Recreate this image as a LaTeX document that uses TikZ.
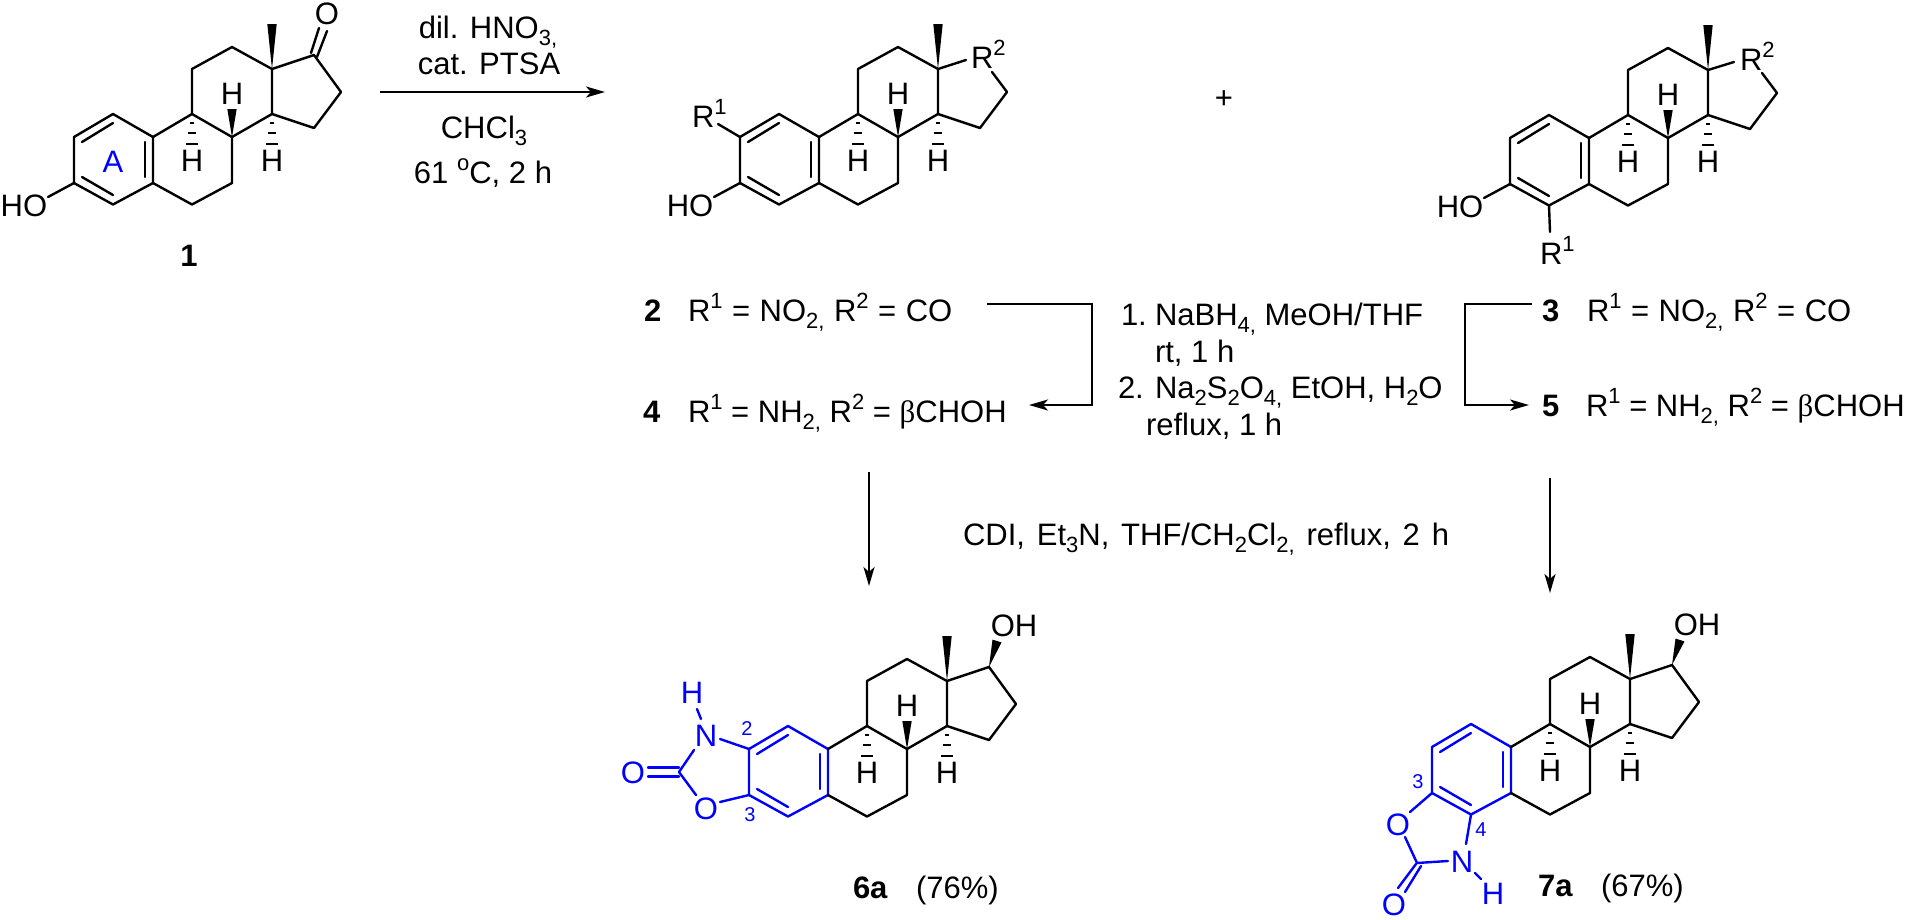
\documentclass[tikz,border=0pt]{standalone}
\usepackage{fontspec}
\setmainfont{Liberation Sans}
\newfontfamily\greekfont{Liberation Serif}
\usetikzlibrary{arrows.meta,calc}
\definecolor{chemblue}{RGB}{0,0,255}
\newcommand{\mainfs}{\fontsize{31}{31}\selectfont}
\newcommand{\smallfs}{\fontsize{20}{20}\selectfont}
\newcommand{\sps}[1]{\raisebox{0.4em}{\fontsize{22}{22}\selectfont #1}}
\newcommand{\sbs}[1]{\raisebox{-0.23em}{\fontsize{22}{22}\selectfont #1}}
\tikzset{
  every node/.style={font=\mainfs,inner sep=0pt,outer sep=0pt},
  bond/.style={line width=2.4pt,line join=round,line cap=round},
  rarrow/.style={line width=2.4pt,-{Stealth[length=19pt,width=11pt,inset=5pt]}},
  lab/.style={anchor=base west},
  numlab/.style={font=\smallfs,text=chemblue},
  hsh/.style={line width=2.2pt}
}
% prefix, dx, dy: named atoms of the steroid skeleton
\newcommand{\atoms}[3]{
  \coordinate (#1c1) at (#2+113,#3+114);
  \coordinate (#1c2) at (#2+74,#3+137);
  \coordinate (#1c3) at (#2+74,#3+183);
  \coordinate (#1c4) at (#2+113,#3+204.5);
  \coordinate (#1c5) at (#2+153,#3+183);
  \coordinate (#1c6) at (#2+192,#3+204.5);
  \coordinate (#1c7) at (#2+232,#3+183);
  \coordinate (#1c8) at (#2+232,#3+137);
  \coordinate (#1c9) at (#2+192,#3+114);
  \coordinate (#1c10) at (#2+153,#3+137);
  \coordinate (#1c11) at (#2+192,#3+69);
  \coordinate (#1c12) at (#2+232,#3+47);
  \coordinate (#1c13) at (#2+272,#3+69);
  \coordinate (#1c14) at (#2+272,#3+114);
  \coordinate (#1c15) at (#2+314,#3+128);
  \coordinate (#1c16) at (#2+341,#3+92);
  \coordinate (#1c17) at (#2+314,#3+55);
  \coordinate (#1me) at (#2+272,#3+24);
  \coordinate (#1wh) at (#2+232,#3+109);
  \coordinate (#1ia) at (#2+82,#3+142);
  \coordinate (#1ib) at (#2+113,#3+123);
  \coordinate (#1ic) at (#2+145,#3+142);
  \coordinate (#1id) at (#2+145,#3+177);
  \coordinate (#1ie) at (#2+82,#3+177);
  \coordinate (#1if) at (#2+113,#3+195);
  \coordinate (#1hoe) at (#2+48,#3+197);
  \node (#1h8) at (#2+232,#3+94) {H};
  \node (#1h9) at (#2+192,#3+161) {H};
  \node (#1h14) at (#2+272,#3+161) {H};
}
\newcommand{\ringA}[2]{
  \draw[bond,#2] (#1c3)--(#1c2)--(#1c1)--(#1c10)--(#1c5)--(#1c4)--cycle;
  \draw[bond,#2] (#1ia)--(#1ib);
  \draw[bond,#2] (#1ic)--(#1id);
  \draw[bond,#2] (#1ie)--(#1if);
}
\newcommand{\hashset}[2]{
  \draw[hsh] (#1-2,#2+9)--(#1+2,#2+9);
  \draw[hsh] (#1-4,#2+19)--(#1+4,#2+19);
  \draw[hsh] (#1-6,#2+30)--(#1+6,#2+30);
}
\newcommand{\wedgebond}[2]{
  \fill (#1) -- ($(#2)!4.7pt!90:(#1)$) -- ($(#2)!4.7pt!-90:(#1)$) -- cycle;
}
\newcommand{\ringsBC}[3]{
  \draw[bond] (#1c10)--(#1c9)--(#1c8)--(#1c7)--(#1c6)--(#1c5);
  \draw[bond] (#1c9)--(#1c11)--(#1c12)--(#1c13)--(#1c14)--(#1c8);
  \draw[bond] (#1c14)--(#1c15);
  \wedgebond{#1c13}{#1me}
  \wedgebond{#1c8}{#1wh}
  \hashset{#2+192}{#3+114}
  \hashset{#2+272}{#3+114}
}
\begin{document}
\begin{tikzpicture}[x=1pt,y=-1pt]
\useasboundingbox (0,0) rectangle (1912,919);

% ---- compound 1
\atoms{a}{0}{0}
\ringA{a}{}
\ringsBC{a}{0}{0}
\draw[bond] (ac13)--(ac17)--(ac16)--(ac15);
\node (aO) at (327,14) {O};
\coordinate (aoa) at (311,53); \coordinate (aob) at (319,28);
\coordinate (aoc) at (317,57); \coordinate (aod) at (327,31);
\draw[bond] (aoa)--(aob);
\draw[bond] (aoc)--(aod);
\node (aHO) at (24,206) {HO};
\draw[bond] (ac3)--(ahoe);
\node[text=chemblue] (aA) at (113,162) {A};
\node[font=\mainfs\bfseries] (n1) at (189,256) {1};

% ---- first reaction
\coordinate (r1s) at (380,92); \coordinate (r1e) at (605,92);
\draw[rarrow] (r1s)--(r1e);
\node[anchor=base] (t1) at (488,38) {dil. HNO\sbs{3,}};
\node[anchor=base] (t2) at (489,74) {cat. PTSA};
\node[anchor=base] (t3) at (484,138) {CHCl\sbs{3}};
\node[anchor=base] (t4) at (483,183) {61 \sps{o}C, 2 h};

% ---- compound 2 family
\atoms{b}{666}{0}
\ringA{b}{}
\ringsBC{b}{666}{0}
\coordinate (bra) at (966,60); \coordinate (brb) at (992,72);
\draw[bond] (bc13)--(bra);
\draw[bond] (brb)--(bc16)--(bc15);
\node[lab] (bR2) at (971,68) {R\sps{2}};
\node (bHO) at (690,206) {HO};
\draw[bond] (bc3)--(bhoe);
\coordinate (bre) at (718,124);
\draw[bond] (bc2)--(bre);
\node[lab] (bR1) at (692,127) {R\sps{1}};

\node (plus) at (1224,100) {+};

% ---- compound 3 family
\atoms{c}{1436}{1}
\ringA{c}{}
\ringsBC{c}{1436}{1}
\coordinate (cra) at (1734,62); \coordinate (crb) at (1762,73);
\draw[bond] (cc13)--(cra);
\draw[bond] (crb)--(cc16)--(cc15);
\node[lab] (cR2) at (1740,70) {R\sps{2}};
\node (cHO) at (1460,207) {HO};
\draw[bond] (cc3)--(choe);
\coordinate (cre) at (1550,232);
\draw[bond] (cc4)--(cre);
\node[lab] (cR1) at (1540,264) {R\sps{1}};

% ---- substituent lists
\node[lab,font=\mainfs\bfseries] (l2) at (644,321) {2};
\node[lab] (l2t) at (688,321) {\spaceskip=9.5pt R\sps{1} = NO\sbs{2,} R\sps{2} = CO};
\node[lab,font=\mainfs\bfseries] (l4) at (643,422) {4};
\node[lab] (l4t) at (688,422) {R\sps{1} = NH\sbs{2,} R\sps{2} = {\greekfont β}CHOH};
\node[lab,font=\mainfs\bfseries] (l3) at (1542,321) {3};
\node[lab] (l3t) at (1587,321) {\spaceskip=9.5pt R\sps{1} = NO\sbs{2,} R\sps{2} = CO};
\node[lab,font=\mainfs\bfseries] (l5) at (1542,416) {5};
\node[lab] (l5t) at (1586,416) {R\sps{1} = NH\sbs{2,} R\sps{2} = {\greekfont β}CHOH};

% ---- bracket arrows
\coordinate (la) at (987,304); \coordinate (lb) at (1092,304);
\coordinate (lc) at (1092,405); \coordinate (ld) at (1029,405);
\draw[rarrow,line join=miter] (la)--(lb)--(lc)--(ld);
\coordinate (ra) at (1532,304); \coordinate (rb) at (1465,304);
\coordinate (rc) at (1465,405); \coordinate (rd) at (1529,405);
\draw[rarrow,line join=miter] (ra)--(rb)--(rc)--(rd);

% ---- middle reagents
\node[lab] (m1n) at (1121,325) {1.};
\node[lab] (m1) at (1155,325) {NaBH\sbs{4,} MeOH/THF};
\node[lab] (m2) at (1155,362) {rt, 1 h};
\node[lab] (m3n) at (1118,398) {2.};
\node[lab] (m3) at (1155,398) {Na\sbs{2}S\sbs{2}O\sbs{4,} EtOH, H\sbs{2}O};
\node[lab] (m4) at (1146,435) {reflux, 1 h};

% ---- down arrows and their reagents
\coordinate (da) at (869,472); \coordinate (db) at (869,586);
\draw[rarrow] (da)--(db);
\coordinate (dc) at (1550,478); \coordinate (dd) at (1550,593);
\draw[rarrow] (dc)--(dd);
\node[anchor=base east] (cdi) at (1449,545) {\spaceskip=11.8pt CDI, Et\sbs{3}N, THF/CH\sbs{2}Cl\sbs{2,} reflux, 2 h};

% ---- compound 6a
\atoms{d}{675}{612}
\ringA{d}{draw=chemblue}
\ringsBC{d}{675}{612}
\coordinate (dw) at (997,641);
\draw[bond] (dc13)--(dc17)--(dc16)--(dc15);
\wedgebond{dc17}{dw}
\node (dOH) at (1014,626) {OH};
\begin{scope}[every node/.append style={text=chemblue}]
\node (dN) at (706,736) {N};
\node (dH) at (692,693) {H};
\node (dO1) at (706,809) {O};
\node (dO2) at (633,773) {O};
\node[numlab] (d2) at (747,729) {2};
\node[numlab] (d3) at (750,815) {3};
\end{scope}
\coordinate (dcc) at (679,772);
\coordinate (dna) at (720,739); \coordinate (dnb) at (694,750);
\coordinate (dha) at (697,709); \coordinate (dhb) at (701,719);
\coordinate (doa) at (696,795); \coordinate (dob) at (720,802);
\coordinate (dda) at (648,767.5); \coordinate (ddb) at (679,767.5);
\coordinate (ddc) at (648,776.5); \coordinate (ddd) at (679,776.5);
\begin{scope}[chemblue]
\draw[bond] (dna)--(dc2);
\draw[bond] (dnb)--(dcc)--(doa);
\draw[bond] (dob)--(dc3);
\draw[bond] (dha)--(dhb);
\draw[bond] (dda)--(ddb);
\draw[bond] (ddc)--(ddd);
\end{scope}
\node[font=\mainfs\bfseries,lab] (l6) at (853,898) {6a};
\node[lab] (y6) at (916,898) {(76\%)};

% ---- compound 7a
\atoms{e}{1358}{610}
\ringA{e}{draw=chemblue}
\ringsBC{e}{1358}{610}
\coordinate (ew) at (1680,640);
\draw[bond] (ec13)--(ec17)--(ec16)--(ec15);
\wedgebond{ec17}{ew}
\node (eOH) at (1697,625) {OH};
\begin{scope}[every node/.append style={text=chemblue}]
\node (eO1) at (1398,825) {O};
\node (eN) at (1462,862) {N};
\node (eH) at (1493,894) {H};
\node (eO2) at (1394,905) {O};
\node[numlab] (e3) at (1418,782) {3};
\node[numlab] (e4) at (1481,830) {4};
\end{scope}
\coordinate (eoa) at (1410,812);
\coordinate (ena) at (1466,844);
\coordinate (ecc) at (1417,863);
\coordinate (enb) at (1448,861);
\coordinate (eob) at (1405,837);
\coordinate (eha) at (1475,873); \coordinate (ehb) at (1481,879);
\coordinate (eda) at (1416,864); \coordinate (edb) at (1398,888);
\coordinate (edc) at (1421,866); \coordinate (edd) at (1405,892);
\begin{scope}[chemblue]
\draw[bond] (ec3)--(eoa);
\draw[bond] (ec4)--(ena);
\draw[bond] (enb)--(ecc)--(eob);
\draw[bond] (eha)--(ehb);
\draw[bond] (eda)--(edb);
\draw[bond] (edc)--(edd);
\end{scope}
\node[font=\mainfs\bfseries,lab] (l7) at (1538,896) {7a};
\node[lab] (y7) at (1601,896) {(67\%)};
\end{tikzpicture}
\end{document}
